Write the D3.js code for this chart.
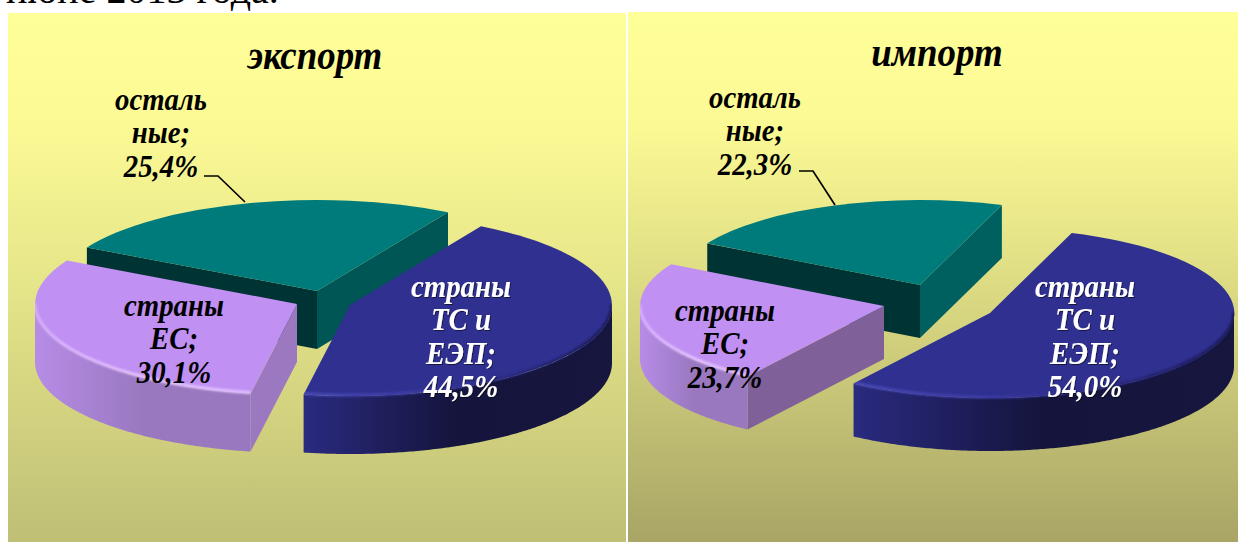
<!DOCTYPE html>
<html><head><meta charset="utf-8">
<script src="https://cdn.jsdelivr.net/npm/d3@7/dist/d3.min.js"></script>
<style>html,body{margin:0;padding:0;background:#fff;overflow:hidden}svg{display:block}
text{font-family:"Liberation Serif",serif}</style></head>
<body><div id="c"></div>
<script>
// ---- data ----
const categoryKeys = ["ts", "eu", "other"];
const categoryLines = [["страны","ТС и","ЕЭП;"],["страны","ЕС;"],["осталь","ные;"]];
const exportValues = [44.5, 30.1, 25.4];
const importValues = [54.0, 23.7, 22.3];
const chartTitles = ["экспорт", "импорт"];
const clippedHeading = "июне 2013 года.";

// ---- layout & style ----
const W = 1238, H = 542;
const fmt = d3.formatLocale({decimal:",",thousands:" ",grouping:[3],currency:["",""]}).format(".1f");
const panels = [
 {title:chartTitles[0], values:exportValues, x:8, y:13, w:618, h:529, start:30, rx:262, ry:91, depth:58,
  bottom:"#bfbf76", mid:"#e6e68a", titleX:315, titleY:69,
  apex:{ts:[350,305],eu:[297,304],other:[317,291]},
  walls:{eu:"#9c78c0",other0:"#003333",other1:"#005555"},
  labels:{ts:[461,297],eu:[174,316],other:[161,110]},
  leader:[[204,176],[218,176],[245,202]]},
 {title:chartTitles[1], values:importValues, x:628, y:12, w:610, h:530, start:19.6, rx:244, ry:85, depth:53,
  bottom:"#a8a566", mid:"#dedd84", titleX:937, titleY:66,
  apex:{ts:[990,313],eu:[884,306],other:[920,285]},
  walls:{eu:"#7f6099",other0:"#003333",other1:"#006060"},
  labels:{ts:[1085,297],eu:[725,321],other:[755,108]},
  leader:[[799,171],[813,171],[835,205]]}
];
const topFill = {ts:"#303090", eu:"#c090f2", other:"#007b7b"};
const wallStops = {ts:["#2a2a80","#14143c","#16163f"], eu:["#b68ce6","#9a78c0","#9a78c0"]};
const rimStops = {ts:["#4a4ab8","#3c3ca6","#2a2a80","#181850"], eu:["#d8b0ff","#e4c4ff","#e0c0ff"]};
const labelFill = {ts:"#fff", eu:"#000", other:"#000"};
const toRad = d => d*Math.PI/180;
const textSquash = 0.9;

const svg = d3.select("#c").append("svg").attr("width",W).attr("height",H);
const defs = svg.append("defs");
const blur = defs.append("filter").attr("id","soft").attr("x","-5%").attr("y","-5%").attr("width","110%").attr("height","110%");
blur.append("feGaussianBlur").attr("stdDeviation",1.3);
const txtShadow = defs.append("filter").attr("id","tshadow").attr("x","-10%").attr("y","-10%").attr("width","120%").attr("height","120%");
txtShadow.append("feDropShadow").attr("dx",1).attr("dy",1).attr("stdDeviation",0.6).attr("flood-color","#000").attr("flood-opacity",0.55);

svg.append("text").attr("x",6).attr("y",3).attr("font-size",40).attr("fill","#000").text(clippedHeading);

function grad(id,x1,x2,stops){
  const g = defs.append("linearGradient").attr("id",id).attr("gradientUnits","userSpaceOnUse")
    .attr("x1",x1).attr("x2",x2).attr("y1",0).attr("y2",0);
  stops.forEach((c,i)=>g.append("stop").attr("offset",i/(stops.length-1)).attr("stop-color",c));
}
function squashed(parent,x,y,size,str,fill,filter){
  return parent.append("text").attr("transform",`translate(${x},${y}) scale(${textSquash},1)`)
    .attr("text-anchor","middle").attr("font-size",size).attr("font-weight","bold").attr("font-style","italic")
    .attr("fill",fill).attr("filter",filter||null).text(str);
}

panels.forEach((p,pi)=>{
  const bg = defs.append("linearGradient").attr("id","bg"+pi).attr("x1",0).attr("x2",0).attr("y1",0).attr("y2",1);
  [[0,"#ffff99"],[0.22,"#fbf994"],[0.5,p.mid],[1,p.bottom]].forEach(s=>bg.append("stop").attr("offset",s[0]).attr("stop-color",s[1]));
  const g = svg.append("g");
  g.append("rect").attr("x",p.x).attr("y",p.y).attr("width",p.w).attr("height",p.h).attr("fill",`url(#bg${pi})`);

  squashed(g,p.titleX,p.titleY,41,p.title,"#000");

  const arcs = d3.pie().sort(null).startAngle(toRad(p.start)).endAngle(toRad(p.start+360))(p.values);
  const unitArc = d3.arc().innerRadius(0).outerRadius(1);
  const slices = arcs.map((a,i)=>{
    const key = categoryKeys[i];
    const [cx,cy] = p.apex[key];
    return {key,i,a,cx,cy,
      sx:d3.scaleLinear().domain([-1,1]).range([cx-p.rx,cx+p.rx]),
      sy:d3.scaleLinear().domain([-1,1]).range([cy-p.ry,cy+p.ry])};
  });
  // painter's order: rear slice first
  const order = ["other","eu","ts"].map(k=>slices.find(s=>s.key===k));
  order.forEach(s=>{
    const {key,a,sx,sy,cx,cy} = s;
    const px = t=>sx(Math.sin(t)), py = t=>sy(-Math.cos(t));
    const radial = (t,fill)=>{
      g.append("path").attr("fill",fill).attr("d",d3.line()([
        [cx,cy],[px(t),py(t)],[px(t),py(t)+p.depth],[cx,cy+p.depth]])+"Z");
    };
    if(key==="other"){ radial(a.startAngle,p.walls.other0); radial(a.endAngle,p.walls.other1); }
    if(key==="eu"){ radial(a.startAngle,p.walls.eu); }
    // curved outer wall of the visible front half
    const lo = Math.max(a.startAngle,toRad(90)), hi = Math.min(a.endAngle,toRad(270));
    let pts = [];
    if(hi>lo){
      pts = d3.range(lo,hi,0.01).concat([hi]);
      const id = `wall${pi}${key}`;
      grad(id,d3.min(pts,px),d3.max(pts,px), key==="ts"?wallStops.ts:wallStops.eu);
      g.append("path").attr("fill",`url(#${id})`)
        .attr("d",d3.area().x(px).y0(py).y1(t=>py(t)+p.depth)(pts));
    }
    g.append("path").attr("fill",topFill[key])
      .attr("transform",`translate(${cx},${cy}) scale(${p.rx},${p.ry})`)
      .attr("d",unitArc(a));
    // bevel along the front rim, kept inside the slice silhouette
    if(pts.length){
      const id = `rim${pi}${key}`, clipId = `clip${pi}${key}`;
      grad(id,d3.min(pts,px),d3.max(pts,px), rimStops[key]);
      const clip = defs.append("clipPath").attr("id",clipId);
      clip.append("path").attr("transform",`translate(${cx},${cy}) scale(${p.rx},${p.ry})`).attr("d",unitArc(a));
      clip.append("path").attr("d",d3.area().x(px).y0(py).y1(t=>py(t)+p.depth)(pts));
      g.append("g").attr("clip-path",`url(#${clipId})`)
        .append("path").attr("fill","none").attr("stroke",`url(#${id})`).attr("stroke-width",3)
        .attr("filter","url(#soft)")
        .attr("d",d3.line().x(px).y(t=>py(t)-1)(pts));
    }
  });

  g.append("path").attr("fill","none").attr("stroke","#000").attr("stroke-width",1.7)
    .attr("d",d3.line()(p.leader));

  slices.forEach(s=>{
    const lines = categoryLines[s.i].concat([fmt(p.values[s.i])+"%"]);
    const [lx,ly] = p.labels[s.key];
    lines.forEach((str,i)=>squashed(g,lx,ly+i*33.4,32,str,labelFill[s.key],s.key==="ts"?"url(#tshadow)":null));
  });
});
</script></body></html>
